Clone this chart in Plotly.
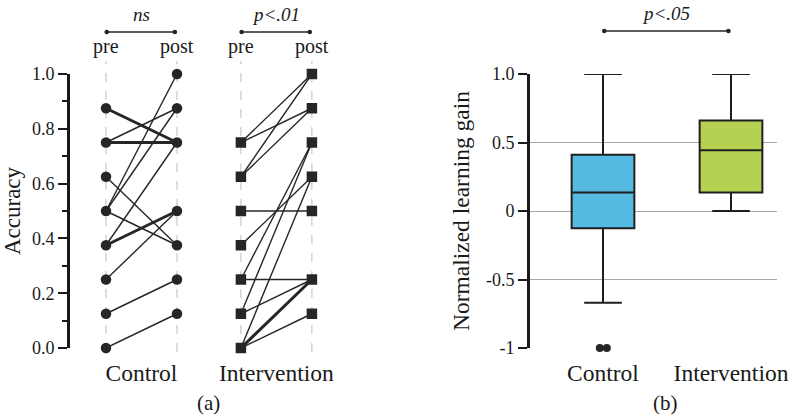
import plotly.graph_objects as go

# ---------------- data ----------------
# (a) accuracy, pre -> post, per participant group (count = participants sharing the same line)
control_pre = [0.875, 0.75, 0.75, 0.625, 0.5, 0.5, 0.5, 0.375, 0.375, 0.25, 0.125, 0.0]
control_post = [0.75, 0.875, 0.75, 0.375, 1.0, 0.875, 0.375, 0.75, 0.5, 0.5, 0.25, 0.125]
control_count = [2, 1, 2, 1, 1, 1, 1, 1, 2, 1, 1, 1]

interv_pre = [0.75, 0.75, 0.625, 0.625, 0.5, 0.375, 0.25, 0.25, 0.125, 0.125, 0.0, 0.0, 0.0]
interv_post = [1.0, 0.875, 1.0, 0.875, 0.5, 0.625, 0.25, 0.75, 0.25, 0.75, 0.625, 0.25, 0.125]
interv_count = [1, 1, 1, 1, 1, 1, 1, 1, 1, 1, 1, 2, 1]

group_labels = ["Control", "Intervention"]
phase_labels = ["pre", "post"]
left_ticks = [0.0, 0.2, 0.4, 0.6, 0.8, 1.0]

# (b) normalized learning gain box statistics
box_q1 = [-0.125, 0.135]
box_median = [0.135, 0.443]
box_q3 = [0.41, 0.66]
box_low = [-0.67, 0.0]
box_high = [1.0, 1.0]
control_outliers = [-1.0, -1.0]
right_ticks = [1.0, 0.5, 0.0, -0.5, -1.0]
right_ticktext = ["1.0", "0.5", "0", "-0.5", "-1"]

sig_left = ["ns", "p<.01"]
sig_right = "p<.05"

# ---------------- style ----------------
FONT = "Liberation Serif"
DARK = "#262626"
TXT = "#1a1a1a"
BOX_COLORS = ["#56B9E1", "#B5D152"]
W, H = 793, 420
GROUP_OFFSET = [0.0, 1.9]  # horizontal placement of the two groups (pre at +0, post at +1)


def py(px):
    return 1 - px / H


fig = go.Figure()

# ----- panel (a) -----
groups = [
    (control_pre, control_post, control_count, "circle"),
    (interv_pre, interv_post, interv_count, "square"),
]
for gi, (pre, post, cnt, sym) in enumerate(groups):
    off = GROUP_OFFSET[gi]
    for a, b, c in zip(pre, post, cnt):
        fig.add_trace(go.Scatter(
            x=[off, off + 1], y=[a, b], mode="lines",
            line=dict(color=DARK, width=1.4 if c == 1 else 3.0),
            hoverinfo="skip", showlegend=False, cliponaxis=False,
            xaxis="x", yaxis="y"))
    fig.add_trace(go.Scatter(
        x=[off] * len(set(pre)) + [off + 1] * len(set(post)),
        y=sorted(set(pre)) + sorted(set(post)), mode="markers",
        marker=dict(symbol=sym, size=10.5, color=DARK),
        showlegend=False, cliponaxis=False, xaxis="x", yaxis="y"))

# ----- panel (b) -----
for i in range(2):
    fig.add_trace(go.Box(
        x=[i], q1=[box_q1[i]], median=[box_median[i]], q3=[box_q3[i]],
        lowerfence=[box_low[i]], upperfence=[box_high[i]],
        width=0.49, whiskerwidth=0.6, fillcolor=BOX_COLORS[i],
        line=dict(color="#1f1f1f", width=2), boxpoints=False,
        showlegend=False, xaxis="x2", yaxis="y2", name=group_labels[i]))
fig.add_trace(go.Scatter(
    x=[-0.025, 0.03], y=control_outliers, mode="markers",
    marker=dict(size=8, color=DARK), showlegend=False, cliponaxis=False,
    xaxis="x2", yaxis="y2"))

# ----- decorations -----
shapes = []
annotations = []


def note(x, y, xref, text, size, italic=False):
    if italic:
        text = "<i>" + text.replace("<", "&lt;") + "</i>"
    annotations.append(dict(x=x, y=y, xref=xref, yref="paper", text=text,
                            showarrow=False, xanchor="center", yanchor="middle",
                            font=dict(family=FONT, size=size, color=TXT)))


def sig_bar(xref, x0, x1, ypx):
    shapes.append(dict(type="line", xref=xref, yref="paper", x0=x0, x1=x1,
                       y0=py(ypx), y1=py(ypx), line=dict(color=DARK, width=1.5)))
    for xv in (x0, x1):
        shapes.append(dict(type="circle", xref=xref, yref="paper", xsizemode="pixel",
                           ysizemode="pixel", xanchor=xv, yanchor=py(ypx),
                           x0=-2.3, x1=2.3, y0=-2.3, y1=2.3,
                           fillcolor=DARK, line=dict(width=0)))


for gi in range(2):
    off = GROUP_OFFSET[gi]
    for k in range(2):
        xv = off + k
        shapes.append(dict(type="line", xref="x", yref="paper", x0=xv, x1=xv,
                           y0=py(352), y1=py(61), layer="below",
                           line=dict(color="#bdbdbd", width=1, dash="dash")))
        note(xv, py(46), "x", phase_labels[k], 20)
    sig_bar("x", off + 0.01, off + 0.97, 32)
    note(off + 0.5, py(15), "x", sig_left[gi], 19, italic=True)

sig_bar("x2", 0.01, 0.98, 31)
note(0.49, py(14), "x2", sig_right, 19, italic=True)
note(1.45, py(403), "x", "(a)", 21)
note(0.49, py(403), "x2", "(b)", 21)

x_lo = (70 - 106) / 71
x_hi = (340 - 106) / 71

fig.update_layout(
    width=W, height=H,
    margin=dict(l=0, r=0, t=0, b=0),
    paper_bgcolor="white", plot_bgcolor="white",
    font=dict(family=FONT, size=18, color=TXT),
    shapes=shapes, annotations=annotations,
    xaxis=dict(domain=[70 / W, 340 / W], range=[x_lo, x_hi], showline=False,
               showgrid=False, zeroline=False, ticks="",
               tickvals=[GROUP_OFFSET[0] + 0.5, GROUP_OFFSET[1] + 0.5],
               ticktext=group_labels, tickfont=dict(size=23.5), ticklabelstandoff=8,
               anchor="y", automargin=False),
    yaxis=dict(domain=[py(348), py(74)], range=[0, 1], showline=True, linewidth=3,
               linecolor=TXT, ticks="outside", ticklen=9, tickwidth=2,
               tickcolor=TXT, tickvals=left_ticks, tickformat=".1f",
               showgrid=False, zeroline=False, anchor="x", automargin=False,
               minor=dict(ticks="outside", ticklen=5, tickwidth=2, tickcolor=TXT,
                          dtick=0.1, tick0=0, showgrid=False),
               title=dict(text="Accuracy", font=dict(size=23), standoff=8)),
    xaxis2=dict(domain=[530 / W, 777 / W], range=[(530 - 603) / 128, (777 - 603) / 128],
                showline=False, showgrid=False, zeroline=False, ticks="",
                tickvals=[0, 1], ticktext=group_labels, tickfont=dict(size=23.5),
                ticklabelstandoff=8, anchor="y2", automargin=False),
    yaxis2=dict(domain=[py(348), py(74)], range=[-1, 1], showline=True, linewidth=3,
                linecolor=TXT, ticks="outside", ticklen=9, tickwidth=2,
                tickcolor=TXT, tickvals=right_ticks, ticktext=right_ticktext,
                showgrid=True, gridcolor="#a8a8a8", gridwidth=1, zeroline=False,
                anchor="x2", automargin=False,
                title=dict(text="Normalized learning gain", font=dict(size=23.5), standoff=10)),
)

fig.write_html("out.html", config={"displayModeBar": False},
               post_script="document.body.style.margin='0';")
